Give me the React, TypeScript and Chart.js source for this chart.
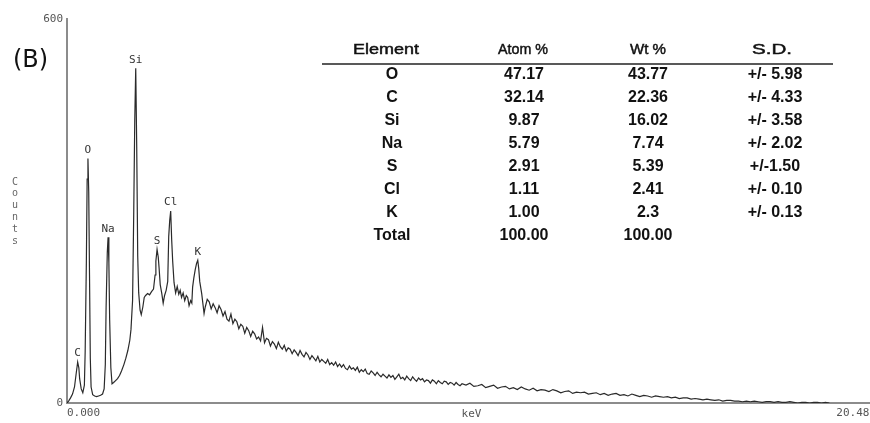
import React, { useEffect, useRef } from "react";
import { Chart, registerables } from "chart.js";

Chart.register(...registerables);

// ---- Spectrum data (keV, counts) ----
const peakKeV = [
  0.0, 0.04, 0.09, 0.14, 0.19, 0.23, 0.27, 0.3, 0.32, 0.36, 0.4, 0.44, 0.46, 0.49, 0.51, 0.53, 0.55, 0.57, 0.59,
  0.61, 0.65, 0.7, 0.75, 0.8, 0.85, 0.9, 0.94, 0.97, 0.99, 1.02, 1.04, 1.06, 1.08, 1.11, 1.14, 1.18, 1.23, 1.28,
  1.33, 1.38, 1.44, 1.49, 1.54, 1.59, 1.62, 1.66, 1.69, 1.715, 1.74, 1.765, 1.79, 1.815, 1.85, 1.88, 1.92, 1.955,
  1.99, 2.04, 2.09, 2.14, 2.19, 2.23, 2.25, 2.28, 2.31, 2.33, 2.36, 2.4, 2.435, 2.47, 2.51, 2.55, 2.575, 2.6,
  2.625, 2.65, 2.675, 2.71, 2.75, 2.79, 2.83, 2.865, 2.9, 2.94, 2.98, 3.02, 3.055, 3.09, 3.13, 3.16, 3.18, 3.21,
  3.245, 3.28, 3.31, 3.335, 3.36, 3.41, 3.47,
];
const peakCounts = [
  0, 3, 8, 14, 25, 45, 64, 55, 38, 22, 16, 28, 80, 220, 350, 382, 330, 200, 70,
  25, 13, 11, 10, 11, 12, 14, 22, 60, 150, 235, 259, 220, 130, 55, 30, 32, 35, 38,
  43, 50, 60, 70, 82, 98, 115, 160, 300, 440, 523, 400, 230, 172, 145, 138, 150, 165,
  168, 171, 169, 174, 178, 200, 222, 240, 228, 212, 185, 171, 156, 168, 176, 190, 260, 285,
  300, 255, 222, 188, 172, 182, 170, 176, 165, 172, 160, 168, 165, 152, 160, 156, 181, 195,
  208, 218, 223, 210, 190, 171, 140,
];

const tailFineStartKeV = 3.5;
const tailFineStepKeV = 0.05;
const tailFineCounts = [
  150, 162, 158, 147, 155,
  149, 141, 152, 146, 136,
  143, 131, 128, 139, 124,
  131, 127, 116, 123, 120,
  109, 118, 113, 104, 112,
  108, 100, 103, 97, 118,
  94, 101, 99, 89, 96,
  92, 85, 95, 88, 84,
  90, 81, 86, 84, 77,
  83, 79, 74, 82, 76,
  72, 79, 75, 68, 74,
  70, 66, 73, 64, 68,
  65, 62, 68, 60, 63,
  59, 64, 57, 61, 56,
  60, 54, 52, 58, 53,
  55, 51, 56, 48, 52,
  49, 53, 46, 45, 50,
  47, 43, 48, 44, 41,
  45, 42, 39, 44, 40,
  43, 37, 41, 45, 38,
  40, 36, 42, 38, 35,
  41, 37, 34, 39, 36,
  38, 33, 36, 35, 31,
  36, 34, 30, 35, 32,
  30, 34, 33, 29, 32,
  31, 28, 32, 29, 27,
  30,
];

const tailCoarseStartKeV = 10.1;
const tailCoarseStepKeV = 0.1;
const tailCoarseCounts = [
  28, 31, 26, 27, 29, 24, 26, 28, 23, 25,
  26, 22, 24, 21, 25, 22, 20, 23, 19, 21,
  20, 18, 21, 19, 16, 18, 19, 15, 17, 16,
  17, 14, 15, 16, 13, 15, 12, 14, 15, 12,
  13, 11, 14, 12, 10, 12, 11, 9, 11, 10,
  9, 10, 8, 9, 7, 8, 8, 6, 7, 6,
  5, 6, 5, 4, 5, 3, 4, 4, 3, 3,
  2, 3, 2, 3, 2, 1, 2, 2, 1, 2,
  1, 1, 2, 1, 0, 1, 1, 0, 1, 1,
  0, 1, 0,
];

// ---- Peak labels ----
const peakLabels = ["C", "O", "Na", "Si", "S", "Cl", "K"];
const peakLabelKeV = [0.27, 0.53, 1.04, 1.74, 2.28, 2.625, 3.31];
const peakLabelCounts = [64, 382, 259, 523, 240, 300, 223];

// ---- Axis ticks ----
const xTickValues = [0, 20.48];
const yTickValues = [0, 600];

// ---- Composition table ----
const tableHeader = ["Element", "Atom %", "Wt %", "S.D."];
const tableElements = ["O", "C", "Si", "Na", "S", "Cl", "K", "Total"];
const tableAtomPct = ["47.17", "32.14", "9.87", "5.79", "2.91", "1.11", "1.00", "100.00"];
const tableWtPct = ["43.77", "22.36", "16.02", "7.74", "5.39", "2.41", "2.3", "100.00"];
const tableSD = ["+/- 5.98", "+/- 4.33", "+/- 3.58", "+/- 2.02", "+/-1.50", "+/- 0.10", "+/- 0.13", ""];

function buildPoints() {
  const pts: { x: number; y: number }[] = [];
  peakKeV.forEach((e, i) => pts.push({ x: e, y: peakCounts[i] }));
  tailFineCounts.forEach((c, i) =>
    pts.push({ x: Math.round((tailFineStartKeV + i * tailFineStepKeV) * 1000) / 1000, y: c })
  );
  tailCoarseCounts.forEach((c, i) =>
    pts.push({ x: Math.round((tailCoarseStartKeV + i * tailCoarseStepKeV) * 1000) / 1000, y: c })
  );
  return pts;
}

const MONO = '"DejaVu Sans Mono", "Liberation Mono", monospace';
const SANS = '"Liberation Sans", Arial, sans-serif';

function fitText(ctx: CanvasRenderingContext2D, text: string, cx: number, cy: number, width: number) {
  const w = ctx.measureText(text).width;
  const sx = width / w;
  ctx.save();
  ctx.translate(cx, cy);
  ctx.scale(sx, 1);
  ctx.fillText(text, 0, 0);
  ctx.lineWidth = 0.45;
  ctx.strokeText(text, 0, 0);
  ctx.restore();
}

const annotationPlugin = {
  id: "edsAnnotations",
  afterDraw(chart: any) {
    const ctx = chart.ctx as CanvasRenderingContext2D;
    const xs = chart.scales.x;
    const ys = chart.scales.y;
    const area = chart.chartArea;
    ctx.save();

    // panel letter
    ctx.fillStyle = "#111";
    ctx.font = '24px "DejaVu Sans", sans-serif';
    ctx.textAlign = "left";
    ctx.textBaseline = "middle";
    ctx.fillText("(B)", 13, 61);

    // stacked y title
    ctx.fillStyle = "#666";
    ctx.font = "10px " + MONO;
    ctx.textAlign = "center";
    "Counts".split("").forEach((ch, i) => ctx.fillText(ch, 15, 182 + i * 11.8));

    // x title
    ctx.fillStyle = "#555";
    ctx.font = "11px " + MONO;
    ctx.fillText("keV", (area.left + area.right) / 2, 414);

    // peak labels
    ctx.fillStyle = "#333";
    ctx.font = "11px " + MONO;
    ctx.textBaseline = "bottom";
    peakLabels.forEach((lab, i) => {
      const px = xs.getPixelForValue(peakLabelKeV[i]);
      const py = ys.getPixelForValue(peakLabelCounts[i]);
      ctx.fillText(lab, px, py - 3);
    });

    // table
    const headerX = [386, 523, 648, 772];
    const headerW = [66, 50, 36, 40];
    const colX = [392, 524, 648, 775];
    ctx.fillStyle = "#111";
    ctx.strokeStyle = "#111";
    ctx.textBaseline = "middle";
    ctx.font = "14px " + SANS;
    tableHeader.forEach((h, i) => fitText(ctx, h, headerX[i], 50.5, headerW[i]));
    ctx.strokeStyle = "#222";
    ctx.lineWidth = 1.5;
    ctx.beginPath();
    ctx.moveTo(322, 64);
    ctx.lineTo(833, 64);
    ctx.stroke();
    ctx.font = "bold 16px " + SANS;
    tableElements.forEach((el, r) => {
      const y = 75 + r * 23;
      ctx.fillText(el, colX[0], y);
      ctx.fillText(tableAtomPct[r], colX[1], y);
      ctx.fillText(tableWtPct[r], colX[2], y);
      if (tableSD[r]) ctx.fillText(tableSD[r], colX[3], y);
    });

    ctx.restore();
  },
};

export default function App() {
  const canvasRef = useRef<HTMLCanvasElement | null>(null);

  useEffect(() => {
    if (!canvasRef.current) return;
    const chart = new Chart(canvasRef.current, {
      type: "line",
      data: {
        datasets: [
          {
            data: buildPoints(),
            borderColor: "#2a2a2a",
            borderWidth: 1.2,
            pointRadius: 0,
            tension: 0,
            fill: false,
          },
        ],
      },
      options: {
        animation: false,
        responsive: false,
        devicePixelRatio: 1,
        layout: { padding: { top: 19, right: 24, left: 0, bottom: 0 } },
        plugins: { legend: { display: false }, tooltip: { enabled: false }, title: { display: false } },
        scales: {
          x: {
            type: "linear",
            min: 0,
            max: 20.48,
            grid: { display: false, drawTicks: false },
            border: { display: true, color: "#8c8c8c", width: 2 },
            afterBuildTicks: (s: any) => {
              s.ticks = xTickValues.map((v) => ({ value: v }));
            },
            afterFit: (s: any) => {
              s.height = 20;
            },
            ticks: {
              autoSkip: false,
              maxRotation: 0,
              align: "inner",
              padding: 4,
              color: "#555",
              font: { family: MONO, size: 11 },
              callback: (v: any) => Number(v).toFixed(3),
            },
          },
          y: {
            type: "linear",
            min: 0,
            max: 600,
            grid: { display: false, drawTicks: false },
            border: { display: true, color: "#8c8c8c", width: 2 },
            afterBuildTicks: (s: any) => {
              s.ticks = yTickValues.map((v) => ({ value: v }));
            },
            afterFit: (s: any) => {
              s.width = 67;
            },
            ticks: {
              autoSkip: false,
              padding: 4,
              color: "#555",
              font: { family: MONO, size: 11 },
              callback: (v: any) => String(v),
            },
          },
        },
      } as any,
      plugins: [annotationPlugin],
    });
    return () => chart.destroy();
  }, []);

  return (
    <div
      style={{
        position: "fixed",
        left: 0,
        top: 0,
        width: 870,
        height: 423,
        overflow: "hidden",
        background: "#fff",
      }}
    >
      <canvas ref={canvasRef} width={900} height={423} style={{ display: "block" }} />
    </div>
  );
}
